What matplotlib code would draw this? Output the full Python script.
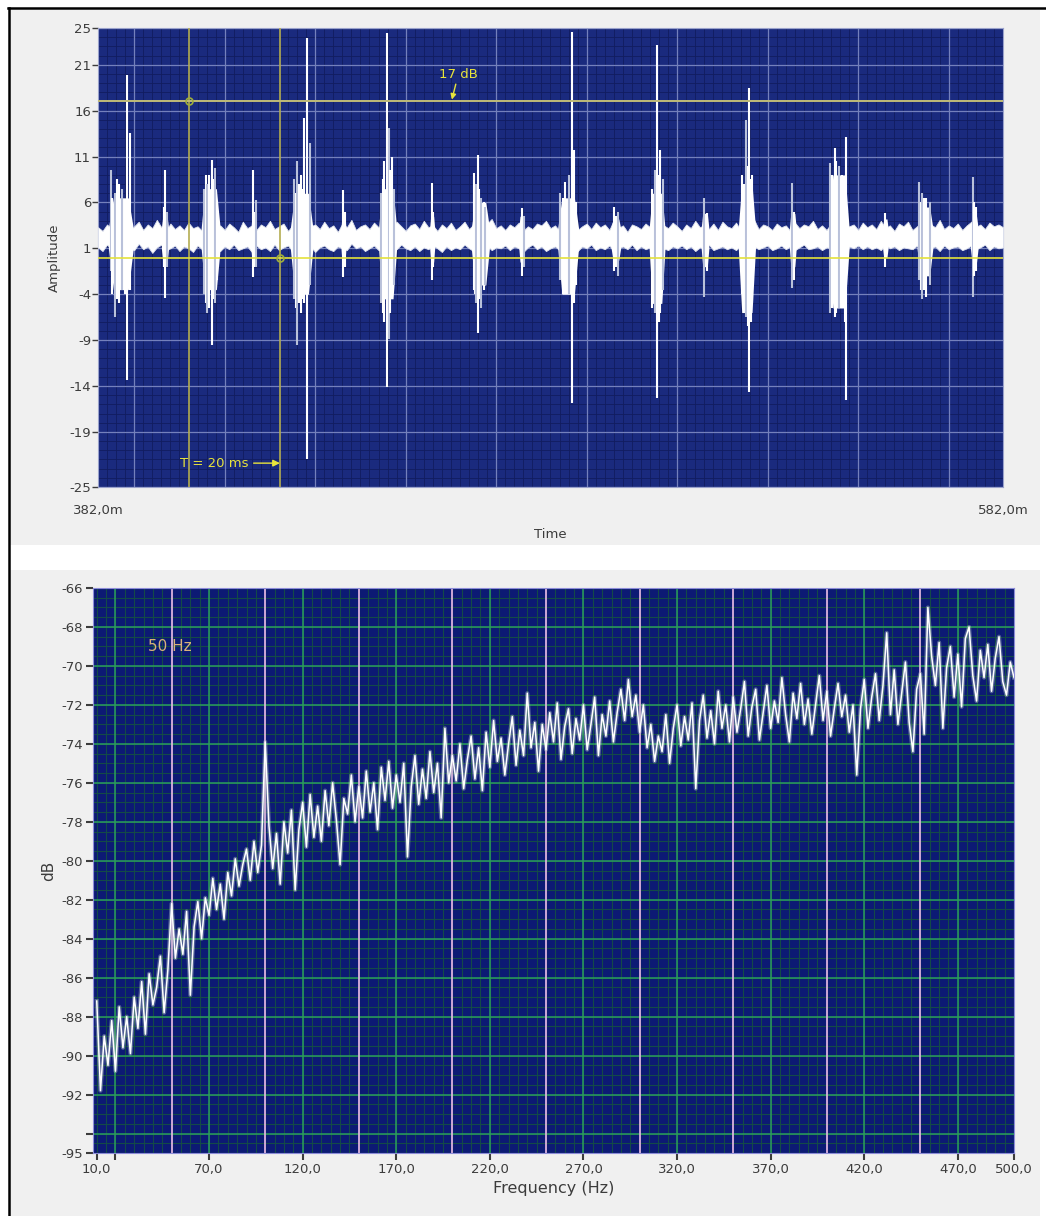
import numpy as np
import matplotlib
matplotlib.use('Agg')
import matplotlib.pyplot as plt
from matplotlib.patches import Rectangle
from matplotlib.lines import Line2D

plt.rcParams['font.family'] = ['DejaVu Sans']

# ---------------- DATA: time signal (top) ----------------
noise_time = np.arange(382.0, 583.0, 1.0)
noise_hi = [3.3, 2.9, 3.6, 3.1, 3.8, 3.2, 3.5, 2.8, 3.4, 3.9,
            3.0, 3.6, 3.2, 4.1, 3.3, 2.9, 3.7, 3.1, 3.5, 3.0,
            3.8, 3.2, 3.4, 2.9, 3.6, 4.2, 3.1, 3.5, 3.0, 3.7,
            3.3, 2.8, 3.9, 3.2, 3.5, 3.0, 3.6, 3.3, 4.0, 3.1,
            3.4, 3.7, 2.9, 3.5, 3.2, 3.8, 3.0, 3.4, 3.6, 3.1,
            3.9, 3.2, 3.5, 2.8, 3.7, 3.3, 4.1, 3.0, 3.4, 3.6,
            3.1, 3.8, 3.3, 3.0, 3.6, 3.2, 3.9, 3.4, 2.9, 3.5,
            3.7, 3.1, 4.0, 3.3, 3.5, 2.9, 3.6, 3.2, 3.8, 3.0,
            3.4, 3.9, 3.1, 3.6, 3.3, 3.0, 3.7, 4.2, 3.2, 3.5,
            3.0, 3.6, 3.3, 3.8, 2.9, 3.4, 3.1, 3.7, 3.5, 4.0,
            3.2, 3.5, 2.9, 3.6, 3.3, 3.9, 3.0, 3.4, 3.7, 3.1,
            3.8, 3.3, 3.6, 3.0, 4.1, 3.2, 3.5, 2.8, 3.6, 3.4,
            3.1, 3.7, 3.3, 3.9, 3.0, 3.5, 3.2, 3.8, 3.4, 2.9,
            3.6, 3.2, 4.0, 3.3, 3.5, 3.1, 3.7, 3.0, 3.9, 3.4,
            3.2, 3.8, 3.0, 3.5, 3.3, 4.1, 3.1, 3.6, 3.4, 3.0,
            3.7, 3.3, 3.5, 2.9, 3.8, 3.2, 3.6, 3.4, 4.0, 3.1,
            3.5, 3.0, 3.7, 3.3, 3.9, 3.1, 3.4, 3.6, 3.0, 3.8,
            3.3, 3.6, 3.1, 4.0, 3.2, 3.5, 2.9, 3.7, 3.4, 3.9,
            3.0, 3.4, 3.8, 3.2, 3.6, 3.3, 4.1, 3.1, 3.5, 3.2,
            3.7, 3.0, 3.5, 3.9, 3.3, 3.6, 3.1, 3.8, 3.4, 3.6,
            3.3]
noise_lo = [1.1, 0.7, 1.4, 0.9, 1.2, 0.6, 1.3, 1.0, 0.8, 1.5,
            0.9, 1.2, 0.5, 1.1, 1.4, 0.8, 1.0, 1.3, 0.7, 1.2,
            1.0, 0.6, 1.3, 0.9, 1.5, 0.8, 1.1, 0.7, 1.2, 0.9,
            1.4, 0.8, 1.0, 1.2, 0.6, 1.3, 0.9, 1.1, 0.7, 1.4,
            0.8, 1.1, 1.3, 0.7, 1.0, 1.4, 0.9, 1.2, 0.6, 1.1,
            1.3, 0.9, 0.7, 1.2, 1.0, 0.8, 1.5, 1.0, 1.2, 0.7,
            1.0, 1.3, 0.8, 1.1, 0.6, 1.2, 0.9, 1.4, 1.0, 0.8,
            1.2, 0.7, 1.1, 0.9, 1.3, 1.0, 0.6, 1.2, 0.8, 1.1,
            0.9, 1.4, 1.0, 0.7, 1.2, 0.9, 1.3, 0.8, 1.1, 1.0,
            1.3, 0.8, 1.2, 1.0, 0.6, 1.1, 1.4, 0.9, 1.2, 0.7,
            1.0, 1.2, 0.8, 1.3, 0.9, 1.1, 0.7, 1.2, 1.0, 1.4,
            0.8, 1.1, 0.9, 1.3, 0.7, 1.0, 1.2, 0.9, 1.4, 0.8,
            1.2, 0.9, 1.1, 0.6, 1.3, 1.0, 0.8, 1.2, 1.0, 1.3,
            0.9, 1.2, 0.7, 1.1, 1.0, 1.4, 0.8, 1.0, 1.2, 0.9,
            1.1, 0.8, 1.3, 1.0, 0.7, 1.2, 0.9, 1.1, 1.3, 0.8,
            1.0, 1.3, 0.9, 1.2, 0.8, 1.1, 1.4, 0.9, 1.0, 1.2,
            0.8, 1.1, 1.0, 1.3, 0.9, 0.7, 1.2, 1.0, 1.3, 0.9,
            1.2, 0.9, 1.1, 0.8, 1.4, 1.0, 1.2, 0.8, 1.1, 1.0,
            0.9, 1.3, 0.8, 1.1, 1.0, 1.2, 0.7, 1.3, 0.9, 1.1,
            1.2, 0.8, 1.0, 1.3, 0.9, 1.1, 1.4, 0.8, 1.2, 1.0,
            1.1]

burst_t0 = [384.3, 396.0, 404.8, 415.8, 424.5, 435.7, 444.0, 455.3, 464.5, 475.0,
            483.6, 495.4, 503.8, 515.3, 523.5, 534.8, 543.5, 555.4, 563.0, 574.8]
burst_t1 = [389.8, 397.6, 409.0, 417.0, 429.5, 436.8, 448.0, 456.4, 468.5, 476.3,
            488.2, 497.5, 507.3, 517.0, 527.3, 536.3, 548.0, 556.6, 566.5, 576.5]
burst_hi = [6.5, 4.5, 7.5, 4.5, 7.0, 4.5, 7.5, 4.5, 6.0, 4.5,
            6.5, 4.2, 7.0, 4.8, 8.0, 4.8, 9.0, 4.2, 5.5, 4.5]
burst_lo = [-3.5, -0.5, -3.5, -0.5, -4.0, -0.5, -4.5, -0.5, -3.0, -0.5,
            -4.0, -0.3, -5.0, -1.0, -6.0, -1.0, -5.5, 0.0, -2.0, -0.5]

spike_t = [384.8, 385.2, 385.8, 386.2, 386.6, 387.3, 387.9, 388.5, 389.1,
           396.5, 396.8, 397.2,
           405.4, 405.8, 406.0, 406.6, 407.1, 407.5, 407.8, 408.4,
           416.3, 416.7, 417.0,
           425.3, 425.7, 426.0, 426.4, 426.8, 427.2, 427.6, 428.2, 428.9,
           436.2, 436.5,
           444.6, 445.0, 445.3, 445.8, 446.3, 446.6, 446.9, 447.5,
           455.8, 456.1,
           465.0, 465.3, 465.6, 466.0, 466.3, 466.7, 467.2, 467.6,
           475.6, 476.1,
           484.2, 484.8, 485.3, 486.0, 486.7, 487.1, 487.6,
           496.0, 496.5, 497.0,
           504.5, 505.0, 505.5, 505.9, 506.2, 506.8,
           515.9, 516.5,
           524.3, 524.7, 525.2, 525.6, 525.9, 526.3, 526.6,
           535.4, 535.9,
           543.8, 544.3, 544.8, 545.2, 545.7, 546.1, 546.5, 547.0, 547.4,
           555.9,
           563.5, 563.9, 564.2, 564.6, 565.0, 565.8,
           575.3, 575.7, 576.0]
spike_hi = [9.5, 6.5, 7.0, 8.5, 8.0, 7.5, 6.0, 19.9, 13.6,
            5.5, 9.5, 5.0,
            7.5, 9.0, 8.0, 9.0, 10.6, 8.5, 9.8, 6.0,
            9.5, 5.0, 6.3,
            8.5, 7.0, 10.5, 8.0, 9.0, 7.5, 15.2, 23.9, 12.5,
            7.4, 5.0,
            7.0, 8.5, 10.5, 24.5, 14.1, 9.5, 11.0, 7.5,
            8.1, 5.0,
            9.2, 7.0, 8.0, 11.2, 7.5, 6.5, 6.0, 5.5,
            5.4, 4.5,
            7.0, 6.5, 8.2, 9.0, 24.6, 11.7, 6.0,
            5.5, 4.5, 5.0,
            7.5, 9.5, 23.1, 9.0, 11.7, 8.5,
            6.5, 4.8,
            9.0, 8.0, 15.0, 10.0, 18.5, 8.5, 9.0,
            8.1, 5.0,
            10.3, 9.0, 11.9, 10.5, 10.0, 8.5, 9.0, 8.0, 13.1,
            4.9,
            8.2, 6.0, 7.0, 6.5, 6.5, 6.0,
            8.8, 6.0, 5.5]
spike_lo = [-1.5, -4.0, -6.5, -4.5, -5.0, -3.5, -4.0, -13.3, -3.5,
            -1.0, -4.4, -1.0,
            -4.0, -5.0, -6.0, -5.5, -9.5, -4.5, -5.0, -2.5,
            -2.1, -1.0, -1.0,
            -4.5, -5.5, -9.5, -5.0, -6.0, -4.5, -5.0, -22.0, -3.0,
            -2.1, -1.0,
            -5.0, -6.0, -7.0, -14.1, -8.9, -6.0, -4.5, -3.0,
            -2.5, -1.0,
            -3.5, -4.0, -5.0, -8.2, -4.5, -5.5, -3.5, -3.0,
            -2.0, -1.0,
            -2.5, -4.0, -1.5, -4.0, -15.8, -5.0, -3.0,
            -1.5, -1.0, -2.0,
            -5.5, -6.0, -15.3, -7.0, -6.0, -3.5,
            -4.3, -1.5,
            -4.0, -6.0, -6.5, -7.5, -14.6, -7.0, -5.0,
            -3.3, -2.5,
            -6.0, -5.5, -6.5, -6.0, -5.5, -5.0, -3.5, -7.0, -15.5,
            -1.0,
            -2.5, -3.5, -4.5, -3.5, -4.3, -3.0,
            -4.3, -2.0, -1.5]
spike_kind = ['g', 'w', 'g', 'w', 'w', 'g', 'w', 'w', 'w',
              'w', 'w', 'g',
              'g', 'w', 'g', 'w', 'w', 'w', 'g', 'w',
              'w', 'w', 'g',
              'g', 'w', 'g', 'w', 'w', 'w', 'w', 'w', 'g',
              'w', 'w',
              'g', 'w', 'w', 'w', 'g', 'w', 'w', 'g',
              'w', 'w',
              'w', 'w', 'g', 'w', 'w', 'g', 'w', 'g',
              'w', 'g',
              'g', 'w', 'w', 'g', 'w', 'w', 'w',
              'w', 'w', 'g',
              'w', 'g', 'w', 'w', 'w', 'g',
              'g', 'w',
              'w', 'w', 'g', 'w', 'w', 'w', 'w',
              'g', 'w',
              'g', 'w', 'w', 'w', 'g', 'w', 'w', 'w', 'w',
              'w',
              'g', 'w', 'g', 'w', 'w', 'g',
              'g', 'w', 'w']

top_yticks = [25, 21, 16, 11, 6, 1, -4, -9, -14, -19, -25]
top_xticks = [382, 582]
top_xticklabels = ['382,0m', '582,0m']
cursor_t = [402.2, 422.2]
cursor_level = [17, 0]

# ---------------- DATA: spectrum (bottom) ----------------
spec_freq = np.arange(10, 502, 2)
spec_db = [-87.2, -91.8, -89.0, -90.5, -88.2, -90.8, -87.5, -89.6, -88.0, -89.9,
           -87.0, -88.6, -86.2, -88.9, -85.8, -87.4, -86.5, -84.9, -87.8, -85.6,
           -82.2, -85.0, -83.5, -84.8, -82.6, -86.9, -83.4, -82.1, -84.0, -81.9,
           -82.8, -80.9, -82.5, -81.2, -83.0, -80.6, -81.8, -79.9, -81.3, -80.2,
           -79.4, -81.0, -79.0, -80.6, -79.2, -73.9, -78.2, -80.4, -78.6, -81.2,
           -78.0, -79.6, -77.4, -81.5, -78.4, -77.0, -79.3, -76.6, -78.8, -77.2,
           -79.0, -76.4, -78.2, -76.0, -77.9, -80.2, -76.8, -77.6, -75.6, -78.0,
           -76.2, -77.8, -75.4, -77.5, -76.0, -78.4, -75.2, -76.9, -74.9, -77.3,
           -75.6, -77.0, -75.0, -79.8, -76.2, -74.6, -77.1, -75.3, -76.8, -74.4,
           -76.5, -75.0, -77.8, -73.2, -76.0, -74.6, -75.9, -74.0, -76.3, -74.8,
           -73.6, -75.8, -74.2, -76.4, -73.4, -75.2, -72.8, -74.9, -73.7, -75.6,
           -74.0, -72.6, -75.1, -73.3, -74.6, -71.4, -74.2, -72.9, -75.4, -73.0,
           -74.3, -72.4, -73.9, -71.9, -74.8, -73.1, -72.2, -74.5, -72.7, -73.8,
           -72.0, -74.3, -73.0, -71.6, -74.6, -72.5, -73.6, -71.8, -73.9, -72.4,
           -71.2, -72.8, -70.7, -72.6, -71.5, -73.4, -72.0, -74.2, -73.0, -74.9,
           -73.6, -74.4, -72.5, -75.0, -73.2, -72.0, -74.1, -72.6, -73.8, -71.9,
           -76.3, -72.8, -71.5, -73.7, -72.3, -74.0, -71.3, -73.2, -72.0, -73.9,
           -71.6, -73.4, -72.2, -70.8, -73.6, -72.1, -71.2, -73.8, -72.4, -71.0,
           -73.2, -71.8, -72.9, -70.6, -72.5, -73.9, -71.4, -72.7, -70.9, -73.0,
           -71.7, -73.5, -72.0, -70.5, -72.8, -71.3, -73.6, -72.2, -70.9, -72.6,
           -71.5, -73.4, -72.0, -75.6, -72.2, -70.7, -73.2, -71.6, -70.4, -72.8,
           -71.0, -68.3, -72.5, -70.2, -73.0, -71.4, -69.8, -72.9, -74.4, -71.2,
           -70.4, -73.5, -67.0, -69.5, -71.0, -68.8, -73.2, -70.1, -69.0, -71.6,
           -69.4, -72.1, -68.6, -68.0, -70.5, -71.8, -69.2, -70.6, -68.9, -71.3,
           -69.6, -68.5, -70.8, -71.5, -69.8, -70.6]

bot_yticks = [-66, -68, -70, -72, -74, -76, -78, -80, -82, -84, -86, -88, -90, -92, -94, -95]
bot_yticklabels = ['-66', '-68', '-70', '-72', '-74', '-76', '-78', '-80', '-82', '-84',
                   '-86', '-88', '-90', '-92', '', '-95']
bot_xticks = [10, 20, 70, 120, 170, 220, 270, 320, 370, 420, 470, 500]
bot_xticklabels = ['10,0', '', '70,0', '120,0', '170,0', '220,0', '270,0', '320,0',
                   '370,0', '420,0', '470,0', '500,0']
harmonics = [50, 100, 150, 200, 250, 300, 350, 400, 450]

# ---------------- FIGURE ----------------
W, H = 1046, 1216
fig = plt.figure(figsize=(W / 100, H / 100), dpi=100)
fig.patch.set_facecolor('white')


def fx(px):
    return px / W


def fy(py):
    return 1 - py / H


fig.patches.append(Rectangle((fx(10), fy(545)), 1030 / W, 535 / H, transform=fig.transFigure,
                             facecolor='#f0f0f0', edgecolor='none', zorder=-10))
fig.patches.append(Rectangle((fx(10), 0), 1030 / W, fy(570), transform=fig.transFigure,
                             facecolor='#f0f0f0', edgecolor='none', zorder=-10))
fig.add_artist(Line2D([fx(9), fx(9)], [0, fy(8)], color='black', lw=1.8, zorder=-5))
fig.add_artist(Line2D([fx(8), 1], [fy(8), fy(8)], color='black', lw=1.8, zorder=-5))

tick_color = '#3c3c3c'

# ---------------- TOP: time signal ----------------
ax1 = fig.add_axes([fx(98), fy(487), 905 / W, 459 / H])
ax1.set_zorder(2)
ax1.set_facecolor('#1a2a7e')
ax1.set_xlim(382, 582)
ax1.set_ylim(-25, 25)

for t in np.arange(382, 582.01, 2):
    ax1.axvline(t, color='#111c60', lw=0.6, zorder=1)
for v in np.arange(-25, 25.01, 1):
    ax1.axhline(v, color='#111c60', lw=0.6, zorder=1)
for t in np.arange(390, 582, 20):
    ax1.axvline(t, color='#7480bc', lw=0.9, zorder=1.5)
for v in top_yticks:
    ax1.axhline(v, color='#7480bc', lw=0.9, zorder=1.5)

ax1.fill_between(noise_time, noise_lo, noise_hi, color='white', lw=0.6, edgecolor='#dfe3ee',
                 zorder=3)
for t0, t1, hi, lo in zip(burst_t0, burst_t1, burst_hi, burst_lo):
    w = t1 - t0
    ax1.fill_between([t0, t0 + 0.2 * w, t1 - 0.2 * w, t1], [1.0, lo, lo, 1.0],
                     [3.2, hi, hi, 3.2], color='white', lw=0, zorder=3)
cols = ['#ffffff' if k == 'w' else '#b9c1da' for k in spike_kind]
ax1.vlines(spike_t, spike_lo, spike_hi, colors=cols, lw=1.5, zorder=3.5)

# cursors
ax1.axvline(cursor_t[0], color='#b4ad52', lw=1.2, zorder=4)
ax1.axvline(cursor_t[1], color='#b4ad52', lw=1.2, zorder=4)
ax1.axhline(cursor_level[0], color='#c0bb78', lw=1.4, zorder=4)
ax1.axhline(cursor_level[1], color='#e4e23c', lw=1.2, zorder=4)
ax1.plot([cursor_t[0], cursor_t[1]], [cursor_level[0], cursor_level[1]], 'o', ms=5,
         mfc='none', mec='#9fae3c', mew=1.2, zorder=5)

ax1.annotate('17 dB', xy=(460.2, 17.2), xytext=(461.6, 19.9), ha='center', va='center',
             color='#e8e43c', fontsize=9.5, zorder=6,
             arrowprops=dict(arrowstyle='-|>', color='#e8e43c', lw=1.0, mutation_scale=8,
                             shrinkA=0, shrinkB=0))
ax1.annotate('T = 20 ms', xy=(cursor_t[1], -22.4), xytext=(407.6, -22.4), ha='center',
             va='center', color='#e8e43c', fontsize=9.5, zorder=6,
             arrowprops=dict(arrowstyle='-|>', color='#e8e43c', lw=1.0, mutation_scale=10,
                             shrinkA=2, shrinkB=0))

ax1.set_yticks(top_yticks)
ax1.set_yticklabels([str(v) for v in top_yticks])
ax1.set_xticks(top_xticks)
ax1.set_xticklabels(top_xticklabels)
ax1.tick_params(axis='y', length=4, width=1, color=tick_color, labelsize=9.5,
                labelcolor=tick_color, pad=1)
ax1.tick_params(axis='x', length=0, labelsize=9.5, labelcolor=tick_color, pad=12)
for s in ax1.spines.values():
    s.set_color('#9aa2cc')
    s.set_linewidth(0.8)
ax1.set_ylabel('Amplitude', fontsize=9.5, color=tick_color, labelpad=6)
ax1.set_xlabel('Time', fontsize=9.5, color=tick_color, labelpad=8)

# ---------------- BOTTOM: spectrum ----------------
ax2 = fig.add_axes([fx(93), fy(1153), 921 / W, 565 / H])
ax2.set_zorder(2)
ax2.set_facecolor('#0c1a74')
ax2.set_xlim(8, 500)
ax2.set_ylim(-95, -66)

for f in np.arange(10, 500.1, 5):
    ax2.axvline(f, color='#134a48', lw=0.8, zorder=1)
for v in np.arange(-95, -65.9, 0.5):
    ax2.axhline(v, color='#134a48', lw=0.8, zorder=1)
for f in bot_xticks[1:-1]:
    ax2.axvline(f, color='#2b9d5e', lw=1.1, zorder=1.5)
for v in bot_yticks[1:-1]:
    ax2.axhline(v, color='#2b9d5e', lw=1.1, zorder=1.5)
for f in harmonics:
    ax2.axvline(f, color='#dcb0e0', lw=1.3, zorder=2)

ax2.plot(spec_freq, spec_db, color='#b8c8c8', lw=3.0, alpha=0.4, zorder=3)
ax2.plot(spec_freq, spec_db, color='white', lw=1.1, zorder=3.5)

ax2.text(49, -69.0, '50 Hz', color='#d9b27a', fontsize=11, ha='center', va='center', zorder=5)

ax2.set_yticks(bot_yticks)
ax2.set_yticklabels(bot_yticklabels)
ax2.set_xticks(bot_xticks)
ax2.set_xticklabels(bot_xticklabels)
ax2.tick_params(axis='both', length=5, width=1.5, color=tick_color, labelsize=9.5,
                labelcolor=tick_color, pad=2)
for s in ax2.spines.values():
    s.set_color('#8c8cd8')
    s.set_linewidth(0.8)
ax2.set_ylabel('dB', fontsize=11, color=tick_color, labelpad=4)
ax2.set_xlabel('Frequency (Hz)', fontsize=11.5, color=tick_color, labelpad=4)

fig.savefig('out.png', dpi=100, facecolor=fig.get_facecolor())
